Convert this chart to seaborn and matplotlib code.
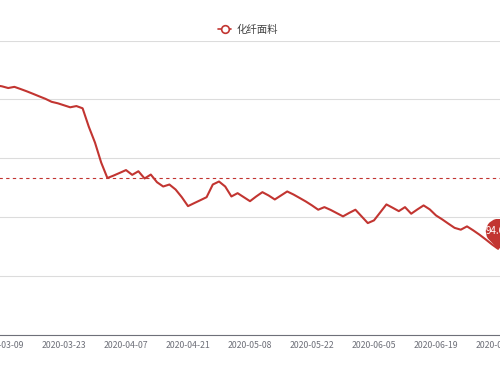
import numpy as np
import pandas as pd
import matplotlib
matplotlib.use("Agg")
import matplotlib.pyplot as plt
from matplotlib.path import Path
from matplotlib.lines import Line2D
import seaborn as sns

# ---- data ----
dates = ['2020-03-06', '2020-03-09', '2020-03-10', '2020-03-11', '2020-03-12', '2020-03-13',
         '2020-03-16', '2020-03-17', '2020-03-18', '2020-03-19', '2020-03-20', '2020-03-23',
         '2020-03-24', '2020-03-25', '2020-03-26', '2020-03-27', '2020-03-30', '2020-03-31',
         '2020-04-01', '2020-04-02', '2020-04-03', '2020-04-07', '2020-04-08', '2020-04-09',
         '2020-04-10', '2020-04-13', '2020-04-14', '2020-04-15', '2020-04-16', '2020-04-17',
         '2020-04-20', '2020-04-21', '2020-04-22', '2020-04-23', '2020-04-24', '2020-04-27',
         '2020-04-28', '2020-04-29', '2020-04-30', '2020-05-06', '2020-05-07', '2020-05-08',
         '2020-05-11', '2020-05-12', '2020-05-13', '2020-05-14', '2020-05-15', '2020-05-18',
         '2020-05-19', '2020-05-20', '2020-05-21', '2020-05-22', '2020-05-25', '2020-05-26',
         '2020-05-27', '2020-05-28', '2020-05-29', '2020-06-01', '2020-06-02', '2020-06-03',
         '2020-06-04', '2020-06-05', '2020-06-08', '2020-06-09', '2020-06-10', '2020-06-11',
         '2020-06-12', '2020-06-15', '2020-06-16', '2020-06-17', '2020-06-18', '2020-06-19',
         '2020-06-22', '2020-06-23', '2020-06-24', '2020-06-29', '2020-06-30', '2020-07-01',
         '2020-07-02', '2020-07-03', '2020-07-06', '2020-07-07']

values = [122.39, 122.22, 121.93, 122.13, 121.76, 121.37, 120.95, 120.52, 120.10, 119.59,
          119.34, 119.00, 118.66, 118.87, 118.49, 115.36, 112.66, 109.27, 106.65, 107.07,
          107.53, 108.00, 107.19, 107.80, 106.57, 107.24, 105.94, 105.21, 105.55, 104.70,
          103.40, 101.88, 102.39, 102.89, 103.40, 105.55, 106.06, 105.21, 103.52, 104.08,
          103.40, 102.72, 103.52, 104.25, 103.69, 103.01, 103.69, 104.37, 103.86, 103.27,
          102.67, 102.00, 101.27, 101.71, 101.24, 100.69, 100.14, 100.73, 101.27, 100.14,
          99.00, 99.46, 100.81, 102.17, 101.61, 101.03, 101.71, 100.59, 101.32, 102.00,
          101.32, 100.30, 99.63, 98.90, 98.19, 97.88, 98.44, 97.77, 97.04, 96.24,
          95.40, 94.64]

series_name = '化纤面料'
mean_value = 106.6          # dashed average line as shown in the reference
y_min, y_max, y_step = 80, 130, 10
label_every = 10
first_label = '2020-03-09'

# ---- style ----
sns.set_theme(style='white')
plt.rcParams['font.family'] = ['Noto Sans CJK SC', 'DejaVu Sans']

RED = '#c23531'
AXIS = '#6E7079'
GRID = '#dcdcdc'

df = pd.DataFrame({'date': dates, 'value': values})
df['idx'] = np.arange(len(df))
n = len(df)

fig = plt.figure(figsize=(5, 3.75), dpi=100)
W, H = 500, 375
px_per_cat = 6.2
left_px = -7.3
ax = fig.add_axes([left_px / W, 40 / H, (px_per_cat * n) / W, 294.5 / H])

sns.lineplot(data=df, x='idx', y='value', color=RED, linewidth=1.5, ax=ax,
             legend=False, zorder=3)

ax.set_xlim(-0.5, n - 0.5)
ax.set_ylim(y_min, y_max)

# grid
ax.set_yticks(np.arange(y_min, y_max + 1, y_step))
ax.yaxis.grid(True, color=GRID, linewidth=0.8)
ax.xaxis.grid(False)
ax.tick_params(axis='y', length=0, labelleft=False)
ax.set_ylabel('')
ax.set_xlabel('')

for s in ['top', 'right', 'left']:
    ax.spines[s].set_visible(False)
ax.spines['bottom'].set_color(AXIS)
ax.spines['bottom'].set_linewidth(0.8)
ax.spines['bottom'].set_zorder(4)

# category axis: labels at category centres, ticks at boundaries
start = dates.index(first_label)
lab_pos = list(range(start, n, label_every))
ax.set_xticks(lab_pos)
ax.set_xticklabels([dates[i] for i in lab_pos], fontsize=6.3, color=AXIS)
ax.tick_params(axis='x', which='major', length=0, pad=4)
ax.set_xticks([p - 0.5 for p in lab_pos], minor=True)
ax.tick_params(axis='x', which='minor', length=2.5, width=0.8, color=AXIS, direction='out')

# mean line
ax.axhline(mean_value, color=RED, linewidth=0.8, linestyle=(0, (3, 3)), zorder=2)

# min pin
imin = int(np.argmin(values))
vmin = values[imin]
r, d = 12.5, 18.0
th = np.degrees(np.arccos(r / d))
a1, a2 = -90 + th, 270 - th
arc = Path.arc(a1, a2)
arc_verts = arc.vertices * r + np.array([0, d])
verts = np.vstack([[0, 0], arc_verts, [0, 0]])
codes = [Path.MOVETO] + [Path.LINETO] * (len(verts) - 2) + [Path.CLOSEPOLY]
pin = Path(verts, codes)
ext = d + r  # px
ax.plot([imin], [vmin], marker=pin, markersize=2 * ext * 0.72, color=RED,
        markeredgewidth=0, linestyle='none', zorder=5, clip_on=False)
ax.annotate(f'{vmin:.2f}', xy=(imin, vmin), xytext=(0, d), textcoords='offset pixels',
            ha='center', va='center', color='white', fontsize=7, zorder=6,
            annotation_clip=False)

# legend
handle = Line2D([], [], color=RED, linewidth=1.2, marker='o', markersize=5.5,
                markerfacecolor='white', markeredgecolor=RED, markeredgewidth=1.2)
fig.legend([handle], [series_name], loc='center', bbox_to_anchor=(248 / W, 1 - 30 / H),
           frameon=False, fontsize=7.5, handlelength=1.3, handletextpad=0.5,
           labelcolor='#444444')

fig.savefig('out.png', dpi=100)
